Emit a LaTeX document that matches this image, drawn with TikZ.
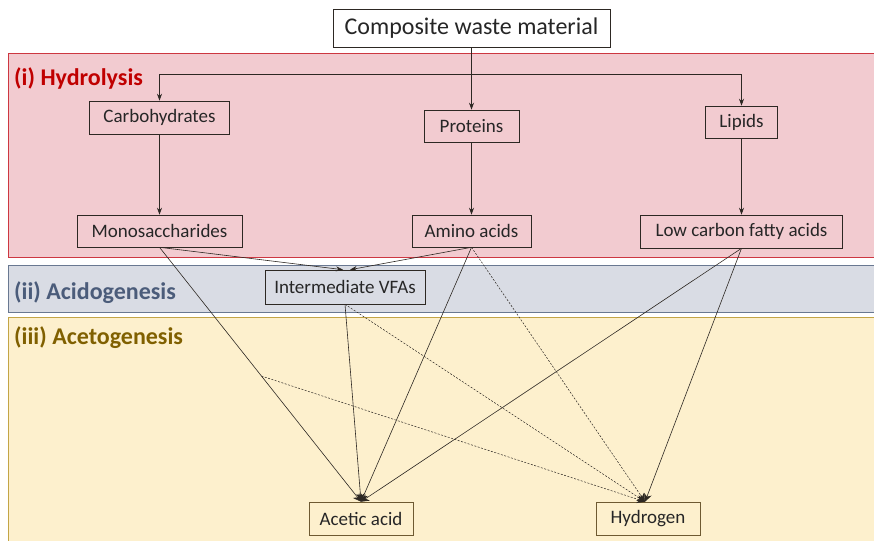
\documentclass[tikz,border=0pt]{standalone}
\usepackage{fontspec}
\setmainfont{Carlito}
\usetikzlibrary{arrows.meta}
\definecolor{hyfill}{RGB}{242,203,208}
\definecolor{hyline}{RGB}{205,55,65}
\definecolor{hytext}{RGB}{192,0,0}
\definecolor{acfill}{RGB}{217,220,228}
\definecolor{acline}{RGB}{105,120,145}
\definecolor{actext}{RGB}{75,92,122}
\definecolor{atfill}{RGB}{253,240,205}
\definecolor{atline}{RGB}{195,165,70}
\definecolor{attext}{RGB}{128,96,0}
\definecolor{conn}{RGB}{45,40,35}
\definecolor{atbox}{RGB}{110,90,50}
\tikzset{
  panel/.style={draw, line width=1pt},
  plabel/.style={anchor=west, font=\fontsize{24}{28}\selectfont\bfseries, inner sep=0},
  box/.style={draw=conn, line width=0.6pt, inner sep=0, font=\fontsize{19}{22}\selectfont, text=black!85},
  arr/.style={conn, line width=0.6pt, -{Stealth[length=7pt,width=5pt]}},
  bigarr/.style={-{Stealth[length=8pt,width=8pt]}},
  ln/.style={conn, line width=0.6pt},
  dsh/.style={conn, line width=0.5pt, dash pattern=on 2pt off 1.5pt}
}
\begin{document}
\begin{tikzpicture}[x=1pt,y=-1pt]
\useasboundingbox (0,0) rectangle (874,540);
% panels
\path[panel, draw=hyline, fill=hyfill] (8,54) rectangle (880,257);
\path[panel, draw=acline, fill=acfill] (8,265) rectangle (880,312);
\path[panel, draw=atline, fill=atfill] (8,317) rectangle (880,545);
\node[plabel, text=hytext] (lh) at (14,78) {(i) Hydrolysis};
\node[plabel, text=actext] (la) at (14,293) {(ii) Acidogenesis};
\node[plabel, text=attext] (lt) at (14,338) {(iii) Acetogenesis};
% nodes
\node[box, fill=white, minimum width=277, minimum height=38, font=\fontsize{24}{28}\selectfont, line width=0.8pt] (comp) at (471.5,28) {Composite waste material};
\node[box, minimum width=140, minimum height=33] (carb) at (159.5,117.5) {Carbohydrates};
\node[box, minimum width=95, minimum height=32] (prot) at (471.5,126) {Proteins};
\node[box, minimum width=72, minimum height=32] (lip) at (741.5,122) {Lipids};
\node[box, minimum width=165, minimum height=32] (mono) at (159.5,231) {Monosaccharides};
\node[box, minimum width=119, minimum height=32] (amino) at (471.5,231) {Amino acids};
\node[box, minimum width=202, minimum height=33] (lcfa) at (741.5,231.5) {Low carbon fatty acids};
\node[box, minimum width=160, minimum height=34] (vfa) at (345,287) {Intermediate VFAs};
\node[box, draw=atbox, minimum width=104, minimum height=33] (acet) at (361,518.5) {Acetic acid};
\node[box, draw=atbox, minimum width=104, minimum height=33] (hyd) at (648,518.5) {Hydrogen};
% hydrolysis branching
\draw[ln] (comp.south) -- ++(0,27) coordinate (j);
\draw[arr] (j) -| (carb.north);
\draw[arr] (j) -| (lip.north);
\draw[arr] (j) -- (prot.north);
\draw[arr] (carb.south) -- (mono.north);
\draw[arr] (prot.south) -- (amino.north);
\draw[arr] (lip.south) -- (lcfa.north);
% acidogenesis
\draw[arr] (mono.south) -- ([xshift=-2]vfa.north);
\draw[arr] (amino.south) -- ([xshift=5]vfa.north);
% acetogenesis
\draw[arr, bigarr] (mono.south) -- coordinate[pos=0.506] (br) (acet.north);
\draw[arr, bigarr] (vfa.south) -- (acet.north);
\draw[arr, bigarr] (amino.south) -- (acet.north);
\draw[arr, bigarr] (lcfa.south) -- (acet.north);
\draw[arr, bigarr] (lcfa.south) -- ([xshift=-3]hyd.north);
\draw[dsh, bigarr] (vfa.south) -- ([xshift=-3]hyd.north);
\draw[dsh, bigarr] (amino.south) -- ([xshift=-3]hyd.north);
\draw[dsh, bigarr] (br) -- ([xshift=-3]hyd.north);
\end{tikzpicture}
\end{document}
